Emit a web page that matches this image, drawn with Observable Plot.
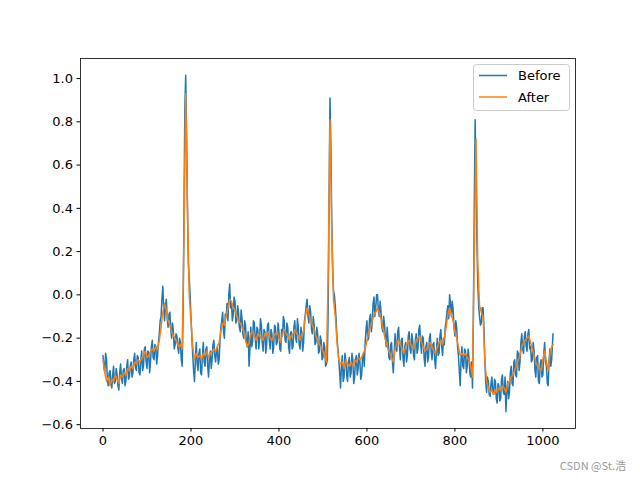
<!DOCTYPE html>
<html><head><meta charset="utf-8">
<script src="https://cdn.jsdelivr.net/npm/d3@7"></script>
<script src="https://cdn.jsdelivr.net/npm/@observablehq/plot@0.6"></script>
<style>
body{margin:0;background:#fff;}
#wrap{position:relative;width:640px;height:480px;}
#wm{position:absolute;right:14px;top:457px;font:11px "Noto Sans CJK SC","DejaVu Sans",sans-serif;color:#9a9a9a;}
</style>
</head><body><div id="wrap"><div id="wm">CSDN @St.浩</div></div>
<script>
// sample indices of the 1024-sample signal
const beforeIdx = [...d3.range(0, 1023, 2), 1023];
const afterIdx = [...d3.range(0, 1021, 4), 1023];

const seriesNames = ["Before", "After"];

const beforeVals = [
  -0.28,-0.33,-0.36,-0.27,-0.30,-0.39,-0.42,-0.36,-0.35,-0.40,-0.43,-0.37,-0.33,-0.41,-0.40,-0.34,
  -0.37,-0.42,-0.44,-0.36,-0.32,-0.38,-0.41,-0.35,-0.34,-0.42,-0.40,-0.33,-0.30,-0.39,-0.38,-0.33,
  -0.31,-0.38,-0.36,-0.30,-0.27,-0.34,-0.35,-0.28,-0.29,-0.36,-0.37,-0.30,-0.26,-0.35,-0.33,-0.25,
  -0.24,-0.31,-0.34,-0.26,-0.27,-0.36,-0.31,-0.24,-0.21,-0.29,-0.30,-0.23,-0.24,-0.32,-0.28,-0.22,
  -0.18,-0.12,-0.10,-0.02,0.04,-0.06,-0.12,-0.05,-0.02,-0.11,-0.15,-0.09,-0.08,-0.16,-0.20,-0.13,
  -0.17,-0.25,-0.23,-0.18,-0.19,-0.24,-0.27,-0.20,-0.22,-0.30,-0.33,-0.10,0.35,0.85,1.015,0.75,
  0.40,0.15,0.08,0.00,-0.10,-0.20,-0.28,-0.35,-0.40,-0.30,-0.22,-0.32,-0.35,-0.27,-0.25,-0.36,
  -0.37,-0.28,-0.22,-0.31,-0.33,-0.25,-0.24,-0.33,-0.38,-0.29,-0.26,-0.34,-0.30,-0.23,-0.21,-0.28,
  -0.31,-0.26,-0.24,-0.32,-0.30,-0.21,-0.15,-0.12,-0.08,-0.17,-0.20,-0.09,-0.10,-0.04,-0.12,0.00,
  0.05,-0.06,-0.04,-0.12,-0.09,-0.01,-0.03,-0.13,-0.12,-0.05,-0.08,-0.15,-0.17,-0.07,-0.11,-0.18,
  -0.20,-0.12,-0.14,-0.22,-0.24,-0.17,-0.33,-0.25,-0.15,-0.24,-0.22,-0.12,-0.13,-0.20,-0.25,-0.15,
  -0.16,-0.25,-0.21,-0.11,-0.14,-0.22,-0.26,-0.16,-0.17,-0.27,-0.23,-0.14,-0.13,-0.21,-0.25,-0.16,
  -0.18,-0.27,-0.24,-0.14,-0.15,-0.23,-0.22,-0.13,-0.17,-0.25,-0.26,-0.16,-0.19,-0.10,-0.12,-0.21,
  -0.22,-0.13,-0.15,-0.24,-0.27,-0.18,-0.17,-0.25,-0.24,-0.15,-0.12,-0.20,-0.22,-0.11,-0.15,-0.23,
  -0.25,-0.15,-0.18,-0.26,-0.22,-0.12,-0.09,-0.05,-0.02,-0.10,-0.13,-0.05,-0.08,-0.16,-0.18,-0.10,
  -0.14,-0.23,-0.22,-0.15,-0.18,-0.27,-0.26,-0.19,-0.21,-0.30,-0.29,-0.22,-0.24,-0.33,-0.32,-0.30,
  -0.05,0.45,0.91,0.70,0.35,0.12,0.02,0.00,-0.05,-0.12,-0.20,-0.25,-0.30,-0.36,-0.43,-0.33,
  -0.28,-0.40,-0.38,-0.27,-0.30,-0.37,-0.40,-0.31,-0.29,-0.38,-0.36,-0.27,-0.30,-0.41,-0.38,-0.30,
  -0.28,-0.37,-0.34,-0.27,-0.31,-0.39,-0.37,-0.29,-0.27,-0.33,-0.22,-0.16,-0.12,-0.21,-0.20,-0.11,
  -0.09,-0.17,-0.13,-0.04,-0.01,-0.10,-0.06,0.00,0.00,-0.07,-0.10,-0.03,-0.08,-0.15,-0.17,-0.10,
  -0.14,-0.20,-0.24,-0.15,-0.21,-0.29,-0.30,-0.23,-0.22,-0.31,-0.36,-0.27,-0.18,-0.25,-0.26,-0.17,
  -0.15,-0.24,-0.30,-0.21,-0.20,-0.29,-0.33,-0.24,-0.22,-0.31,-0.28,-0.19,-0.17,-0.25,-0.27,-0.18,
  -0.21,-0.28,-0.30,-0.21,-0.18,-0.27,-0.25,-0.16,-0.14,-0.22,-0.27,-0.19,-0.20,-0.29,-0.33,-0.24,
  -0.22,-0.31,-0.29,-0.20,-0.18,-0.26,-0.30,-0.23,-0.22,-0.30,-0.34,-0.26,-0.20,-0.28,-0.27,-0.19,
  -0.16,-0.24,-0.28,-0.20,-0.23,-0.15,-0.12,-0.08,-0.05,-0.11,0.00,-0.04,-0.10,-0.03,-0.07,-0.15,
  -0.19,-0.12,-0.15,-0.24,-0.28,-0.35,-0.42,-0.30,-0.24,-0.33,-0.34,-0.25,-0.26,-0.36,-0.33,-0.25,
  -0.29,-0.36,-0.38,-0.31,-0.43,-0.10,0.40,0.81,0.55,0.25,0.05,-0.05,-0.10,-0.14,-0.13,-0.06,
  -0.06,-0.15,-0.30,-0.40,-0.45,-0.38,-0.40,-0.46,-0.47,-0.41,-0.38,-0.45,-0.46,-0.39,-0.40,-0.48,
  -0.50,-0.41,-0.42,-0.49,-0.48,-0.39,-0.37,-0.45,-0.46,-0.38,-0.54,-0.44,-0.40,-0.48,-0.45,-0.36,
  -0.33,-0.41,-0.42,-0.31,-0.30,-0.37,-0.38,-0.26,-0.27,-0.35,-0.31,-0.22,-0.18,-0.25,-0.27,-0.19,
  -0.17,-0.24,-0.26,-0.18,-0.16,-0.25,-0.24,-0.31,-0.30,-0.22,-0.26,-0.35,-0.38,-0.29,-0.28,-0.40,
  -0.41,-0.32,-0.30,-0.38,-0.37,-0.27,-0.22,-0.31,-0.33,-0.41,-0.42,-0.31,-0.25,-0.33,-0.30,-0.22,
  -0.18
];

const afterVals = [
  -0.30,-0.36,-0.40,-0.38,-0.42,-0.39,-0.40,-0.37,-0.39,-0.41,-0.37,-0.38,-0.36,-0.37,-0.34,-0.35,
  -0.33,-0.34,-0.31,-0.32,-0.30,-0.31,-0.29,-0.28,-0.26,-0.29,-0.28,-0.26,-0.25,-0.26,-0.24,-0.25,
  -0.21,-0.15,-0.08,-0.04,-0.07,-0.12,-0.14,-0.17,-0.19,-0.20,-0.22,-0.24,-0.23,-0.25,0.25,0.93,
  0.40,0.00,-0.12,-0.24,-0.30,-0.27,-0.29,-0.28,-0.30,-0.27,-0.28,-0.26,-0.29,-0.27,-0.26,-0.25,
  -0.26,-0.24,-0.22,-0.17,-0.13,-0.14,-0.10,-0.06,-0.02,-0.03,-0.06,-0.07,-0.10,-0.12,-0.13,-0.15,
  -0.17,-0.21,-0.24,-0.22,-0.18,-0.17,-0.19,-0.21,-0.18,-0.19,-0.20,-0.21,-0.18,-0.19,-0.17,-0.20,
  -0.21,-0.19,-0.18,-0.17,-0.20,-0.22,-0.18,-0.16,-0.18,-0.19,-0.21,-0.19,-0.18,-0.16,-0.18,-0.19,
  -0.21,-0.18,-0.17,-0.10,-0.06,-0.09,-0.12,-0.14,-0.16,-0.19,-0.21,-0.23,-0.24,-0.26,-0.28,-0.31,
  0.10,0.81,0.30,-0.02,-0.10,-0.22,-0.30,-0.32,-0.31,-0.34,-0.30,-0.32,-0.33,-0.31,-0.33,-0.30,
  -0.31,-0.29,-0.30,-0.29,-0.27,-0.25,-0.21,-0.17,-0.15,-0.12,-0.09,-0.08,-0.06,-0.08,-0.11,-0.15,
  -0.19,-0.22,-0.25,-0.27,-0.29,-0.31,-0.25,-0.22,-0.21,-0.23,-0.25,-0.27,-0.24,-0.22,-0.21,-0.23,
  -0.25,-0.24,-0.21,-0.20,-0.19,-0.22,-0.24,-0.26,-0.25,-0.23,-0.22,-0.24,-0.26,-0.27,-0.24,-0.22,
  -0.21,-0.23,-0.20,-0.15,-0.09,-0.06,-0.09,-0.12,-0.17,-0.20,-0.24,-0.28,-0.27,-0.28,-0.27,-0.29,
  -0.30,-0.33,-0.38,0.20,0.72,0.15,-0.05,-0.08,-0.10,-0.30,-0.40,-0.43,-0.45,-0.44,-0.46,-0.44,
  -0.45,-0.43,-0.44,-0.42,-0.43,-0.45,-0.41,-0.40,-0.38,-0.37,-0.35,-0.33,-0.30,-0.28,-0.24,-0.22,
  -0.21,-0.20,-0.19,-0.22,-0.25,-0.28,-0.31,-0.33,-0.34,-0.35,-0.30,-0.26,-0.31,-0.35,-0.27,-0.24,
  -0.23
];

const xTicks = [0, 200, 400, 600, 800, 1000];
const yTicks = [-0.6, -0.4, -0.2, 0.0, 0.2, 0.4, 0.6, 0.8, 1.0];

const colors = ["#1f77b4", "#ff7f0e"];

const before = beforeIdx.map((x, i) => ({x, y: beforeVals[i]}));
const after = afterIdx.map((x, i) => ({x, y: afterVals[i]}));

const fmtY = d => d.toFixed(1).replace("-", "\u2212");

const chart = Plot.plot({
  width: 640, height: 480,
  marginLeft: 80, marginRight: 65, marginTop: 58, marginBottom: 52,
  style: {fontFamily: "DejaVu Sans", fontSize: "13px", background: "#fff", color: "#000", overflow: "visible"},
  x: {domain: [-51.15, 1074.15], ticks: xTicks, tickFormat: d => String(d), label: null, tickSize: 3.5, tickPadding: 4},
  y: {domain: [-0.61775, 1.09275], ticks: yTicks, tickFormat: fmtY, label: null, tickSize: 3.5, tickPadding: 4},
  marks: [
    Plot.line(before, {x: "x", y: "y", stroke: colors[0], strokeWidth: 1.5}),
    Plot.line(after, {x: "x", y: "y", stroke: colors[1], strokeWidth: 1.5}),
    Plot.frame({stroke: "#000", strokeWidth: 0.8})
  ]
});

document.getElementById("wrap").prepend(chart);

// legend (matplotlib style, upper right)
const svg = d3.select(chart);
const lg = svg.append("g").attr("font-family", "DejaVu Sans").attr("font-size", "13px").attr("text-anchor", "start");
lg.append("rect").attr("x", 473.5).attr("y", 64.5).attr("width", 96).attr("height", 46)
  .attr("rx", 3).attr("fill", "#fff").attr("fill-opacity", 0.8).attr("stroke", "#cccccc").attr("stroke-width", 1);
seriesNames.forEach((name, i) => {
  const cy = 75.5 + i * 21.5;
  lg.append("line").attr("x1", 479).attr("x2", 507).attr("y1", cy).attr("y2", cy)
    .attr("stroke", colors[i]).attr("stroke-width", 1.5);
  lg.append("text").attr("x", 518).attr("y", cy).attr("dy", "0.35em").attr("text-anchor", "start").attr("fill", "#000").text(name);
});
</script>
</body></html>
